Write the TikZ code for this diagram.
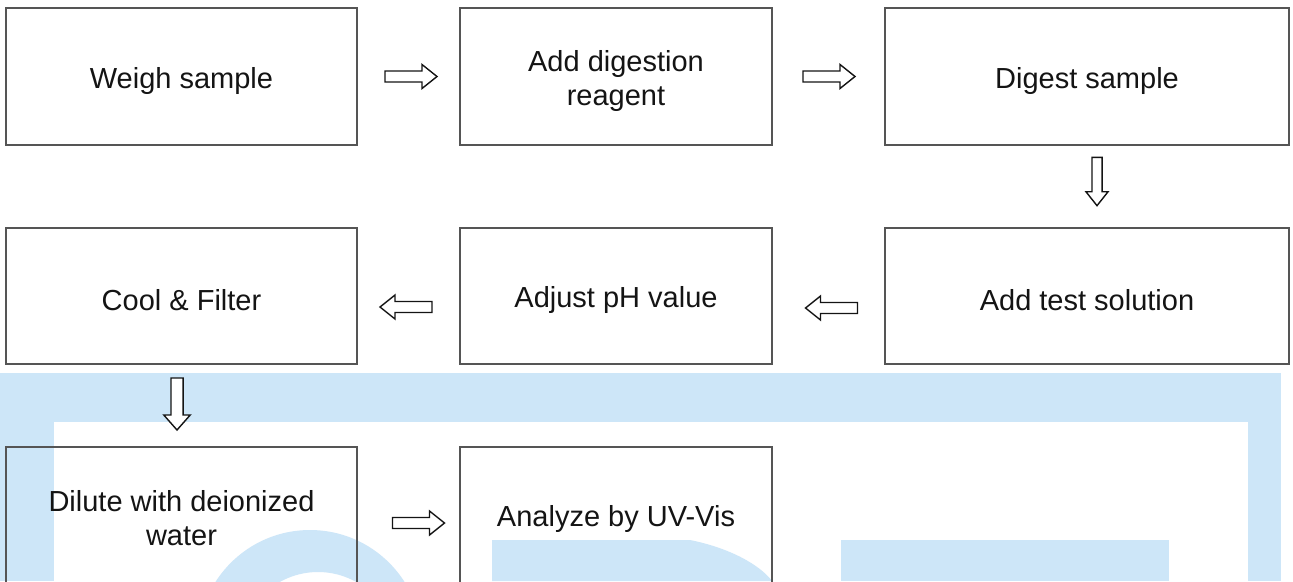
\documentclass[tikz,border=0pt]{standalone}
\usepackage{fontspec}
\setmainfont{Liberation Sans}
\usetikzlibrary{calc}

\definecolor{boxgray}{RGB}{85,85,85}
\definecolor{inkblack}{RGB}{20,20,20}
\definecolor{wmblue}{RGB}{205,230,248}

\tikzset{
  stepbox/.style={draw=boxgray, line width=1.4pt, inner sep=0pt, align=center,
    text=inkblack, font=\fontsize{29}{34}\selectfont},
  % text sits a little below the box middle
  lowered/.style={text height=30pt},
  lowered2/.style={text height=64pt},
  arrowline/.style={draw=inkblack, fill=white, line width=1.4pt, line join=miter},
  hollowarrow/.pic={
    \path[arrowline] (-26,-5.5) -- (11,-5.5) -- (11,-12) -- (26,0) -- (11,12)
      -- (11,5.5) -- (-26,5.5) -- cycle;
  },
  wm/.style={fill=wmblue, draw=none}
}

\begin{document}
\begin{tikzpicture}[x=1pt, y=-1pt]
\useasboundingbox (0,0) rectangle (1293,581);
\clip (0,0) rectangle (1293,581);
\fill[white] (0,0) rectangle (1293,581);

% faint background watermark
\fill[wm] (0,373) rectangle (1281,422);
\fill[wm] (0,373) rectangle (54,581);
\fill[wm] (1248,373) rectangle (1281,581);
\fill[wm] (841,540) rectangle (1169,581);
\fill[wm, even odd rule] (310,642) circle (112) (318,650) circle (78);
\fill[wm] (492,540) -- (690,540) .. controls (730,548) and (760,565) .. (772,581)
  -- (492,581) -- cycle;

% process steps
\node[stepbox, lowered, minimum width=351pt, minimum height=137pt] (b1) at (181.5,76.5) {Weigh sample};
\node[stepbox, lowered2, minimum width=312pt, minimum height=137pt] (b2) at (616,76.5) {Add digestion\\reagent};
\node[stepbox, lowered, minimum width=404pt, minimum height=137pt] (b3) at (1087,76.5) {Digest sample};

\node[stepbox, lowered, minimum width=351pt, minimum height=136pt] (b4) at (181.5,296) {Cool \& Filter};
\node[stepbox, lowered, minimum width=312pt, minimum height=136pt] (b5) at (616,296) {Adjust pH value};
\node[stepbox, lowered, minimum width=404pt, minimum height=136pt] (b6) at (1087,296) {Add test solution};

\node[stepbox, minimum width=351pt, minimum height=143pt] (b7) at (181.5,518.5) {Dilute with deionized\\water};
\node[stepbox, minimum width=312pt, minimum height=143pt] (b8) at (616,518.5) {Analyze by UV-Vis};

% hollow block arrows between the steps
\pic at ($(b1.east)!0.5!(b2.west)+(2.5,0)$) {hollowarrow};
\pic at ($(b2.east)!0.5!(b3.west)+(0.5,0)$) {hollowarrow};
\pic[rotate=-90, xscale=0.93, yscale=0.92] at ($(b3.south)!0.5!(b6.north)+(10,-5)$) {hollowarrow};
\pic[rotate=180] at ($(b6.west)!0.5!(b5.east)+(3,12)$) {hollowarrow};
\pic[rotate=180] at ($(b5.west)!0.5!(b4.east)+(-2.5,11)$) {hollowarrow};
\pic[rotate=-90, xscale=1.0, yscale=1.1] at ($(b4.south)!0.5!(b7.north)+(-4.5,-1.5)$) {hollowarrow};
\pic at ($(b7.east)!0.5!(b8.west)+(10,4.5)$) {hollowarrow};
\end{tikzpicture}
\end{document}
